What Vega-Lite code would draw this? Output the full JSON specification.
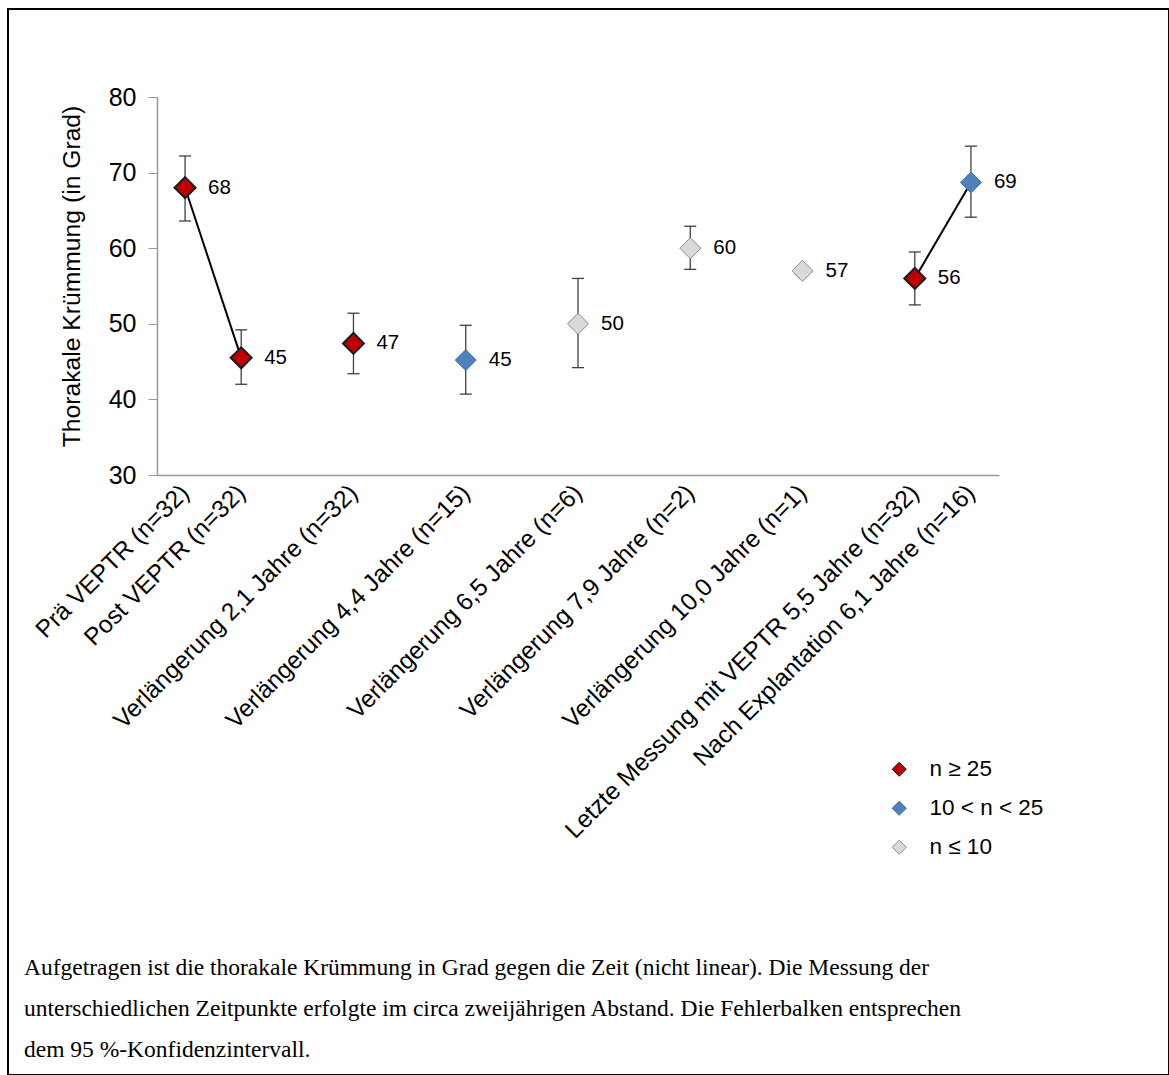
{
  "$schema": "https://vega.github.io/schema/vega-lite/v6.json",
  "autosize": "none",
  "width": 1161,
  "height": 1066,
  "padding": {"left": 8, "top": 9, "right": 0, "bottom": 0},
  "background": "white",
  "config": {
    "view": {"stroke": "black", "strokeWidth": 2},
    "font": "Liberation Sans"
  },
  "title": {
    "text": [
      "Aufgetragen ist die thorakale Krümmung in Grad gegen die Zeit (nicht linear). Die Messung der",
      "unterschiedlichen Zeitpunkte erfolgte im circa zweijährigen Abstand. Die Fehlerbalken entsprechen",
      "dem 95 %-Konfidenzintervall."
    ],
    "orient": "bottom",
    "anchor": "start",
    "frame": "group",
    "offset": -100,
    "dx": 16,
    "baseline": "alphabetic",
    "font": "Liberation Serif",
    "fontSize": 23.5,
    "fontWeight": "normal",
    "color": "black",
    "lineHeight": 41
  },
  "data": {
    "values": [
      {"pos": 0, "label": "Prä VEPTR (n=32)", "val": 68.0, "lo": 63.6, "hi": 72.2, "cat": "n ≥ 25", "seg": "a", "lbl": "68"},
      {"pos": 1, "label": "Post VEPTR (n=32)", "val": 45.5, "lo": 42.0, "hi": 49.2, "cat": "n ≥ 25", "seg": "a", "lbl": "45"},
      {"pos": 3, "label": "Verlängerung 2,1 Jahre (n=32)", "val": 47.4, "lo": 43.4, "hi": 51.4, "cat": "n ≥ 25", "seg": null, "lbl": "47"},
      {"pos": 5, "label": "Verlängerung 4,4 Jahre (n=15)", "val": 45.2, "lo": 40.7, "hi": 49.8, "cat": "10 < n < 25", "seg": null, "lbl": "45"},
      {"pos": 7, "label": "Verlängerung 6,5 Jahre (n=6)", "val": 50.0, "lo": 44.2, "hi": 56.0, "cat": "n ≤ 10", "seg": null, "lbl": "50"},
      {"pos": 9, "label": "Verlängerung 7,9 Jahre (n=2)", "val": 60.0, "lo": 57.2, "hi": 62.9, "cat": "n ≤ 10", "seg": null, "lbl": "60"},
      {"pos": 11, "label": "Verlängerung 10,0 Jahre (n=1)", "val": 57.0, "lo": null, "hi": null, "cat": "n ≤ 10", "seg": null, "lbl": "57"},
      {"pos": 13, "label": "Letzte Messung mit VEPTR 5,5 Jahre (n=32)", "val": 56.0, "lo": 52.5, "hi": 59.5, "cat": "n ≥ 25", "seg": "b", "lbl": "56"},
      {"pos": 14, "label": "Nach Explantation 6,1 Jahre (n=16)", "val": 68.7, "lo": 64.1, "hi": 73.5, "cat": "10 < n < 25", "seg": "b", "lbl": "69"}
    ]
  },
  "encoding": {
    "x": {
      "field": "pos",
      "type": "quantitative",
      "scale": {"domain": [-0.5, 14.5], "range": [149, 991], "nice": false, "zero": false},
      "axis": {
        "values": [0, 1, 3, 5, 7, 9, 11, 13, 14],
        "labelExpr": "['Prä VEPTR (n=32)','Post VEPTR (n=32)','','Verlängerung 2,1 Jahre (n=32)','','Verlängerung 4,4 Jahre (n=15)','','Verlängerung 6,5 Jahre (n=6)','','Verlängerung 7,9 Jahre (n=2)','','Verlängerung 10,0 Jahre (n=1)','','Letzte Messung mit VEPTR 5,5 Jahre (n=32)','Nach Explantation 6,1 Jahre (n=16)'][datum.value]",
        "labelAngle": -45,
        "labelAlign": "right",
        "labelBaseline": "middle",
        "ticks": false,
        "grid": false,
        "domainColor": "#999999",
        "domainWidth": 1.5,
        "labelFontSize": 24.5,
        "labelColor": "black",
        "labelPadding": 14,
        "labelLimit": 0,
        "labelOverlap": false,
        "labelBound": false,
        "labelFlush": false,
        "offset": -600,
        "title": null
      }
    },
    "y": {
      "field": "val",
      "type": "quantitative",
      "title": "Thorakale Krümmung (in Grad)",
      "scale": {"domain": [30, 80], "range": [466, 88], "nice": false, "zero": false},
      "axis": {
        "values": [30, 40, 50, 60, 70, 80],
        "offset": -149,
        "grid": false,
        "domainColor": "#999999",
        "domainWidth": 1.5,
        "tickColor": "#999999",
        "tickSize": 9,
        "labelFontSize": 25,
        "labelColor": "black",
        "labelPadding": 12,
        "title": "Thorakale Krümmung (in Grad)",
        "titleFontSize": 24.7,
        "titleFontWeight": "normal",
        "titleColor": "black",
        "titlePadding": 24,
        "titleY": 267
      }
    }
  },
  "layer": [
    {
      "transform": [{"filter": "datum.lo != null"}],
      "mark": {"type": "rule", "color": "#404040", "strokeWidth": 1.3},
      "encoding": {
        "y": {"field": "lo", "type": "quantitative", "title": "Thorakale Krümmung (in Grad)"},
        "y2": {"field": "hi"}
      }
    },
    {
      "transform": [{"filter": "datum.lo != null"}],
      "mark": {"type": "tick", "orient": "horizontal", "size": 12, "thickness": 1.3, "color": "#404040", "opacity": 1},
      "encoding": {
        "y": {"field": "lo", "type": "quantitative", "title": "Thorakale Krümmung (in Grad)"}
      }
    },
    {
      "transform": [{"filter": "datum.hi != null"}],
      "mark": {"type": "tick", "orient": "horizontal", "size": 12, "thickness": 1.3, "color": "#404040", "opacity": 1},
      "encoding": {
        "y": {"field": "hi", "type": "quantitative", "title": "Thorakale Krümmung (in Grad)"}
      }
    },
    {
      "transform": [{"filter": "datum.seg != null"}],
      "mark": {"type": "line", "color": "black", "strokeWidth": 2},
      "encoding": {
        "detail": {"field": "seg", "type": "nominal"}
      }
    },
    {
      "mark": {"type": "point", "shape": "diamond", "filled": true, "size": 440, "opacity": 1},
      "encoding": {
        "fill": {
          "field": "cat",
          "type": "nominal",
          "scale": {"domain": ["n ≥ 25", "10 < n < 25", "n ≤ 10"], "range": ["#C00000", "#4F81BD", "#D9D9D9"]},
          "legend": {
            "orient": "none", "legendX": 880, "legendY": 749, "title": null,
            "symbolType": "diamond", "symbolSize": 200, "symbolStrokeWidth": 1,
            "labelFontSize": 22.5, "labelColor": "black", "labelFont": "Liberation Sans",
            "rowPadding": 16, "labelOffset": 19, "padding": 0
          }
        },
        "stroke": {
          "field": "cat",
          "type": "nominal",
          "scale": {"domain": ["n ≥ 25", "10 < n < 25", "n ≤ 10"], "range": ["#1a1a1a", "#41719C", "#8C8C8C"]},
          "legend": {
            "orient": "none", "legendX": 880, "legendY": 749, "title": null,
            "symbolType": "diamond", "symbolSize": 200, "symbolStrokeWidth": 1,
            "labelFontSize": 22.5, "labelColor": "black", "labelFont": "Liberation Sans",
            "rowPadding": 16, "labelOffset": 19, "padding": 0
          }
        },
        "strokeWidth": {
          "condition": {"test": "datum.cat === 'n ≥ 25'", "value": 2},
          "value": 1
        }
      }
    },
    {
      "mark": {"type": "text", "align": "left", "baseline": "middle", "dx": 23, "fontSize": 20.5, "color": "black"},
      "encoding": {
        "text": {"field": "lbl", "type": "nominal"}
      }
    }
  ]
}
